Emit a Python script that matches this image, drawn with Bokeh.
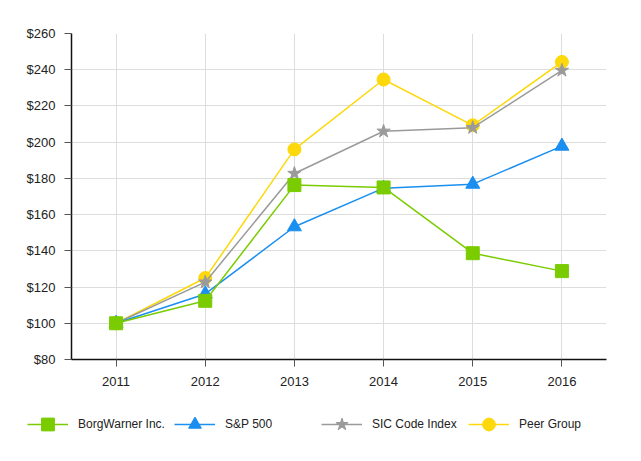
from bokeh.plotting import figure
from bokeh.layouts import column, row
from bokeh.models import FixedTicker, NumeralTickFormatter, Legend, LegendItem, Range1d
from bokeh.embed import file_html
from bokeh.resources import INLINE

years = [2011, 2012, 2013, 2014, 2015, 2016]
borgwarner = [100, 112.4, 176.3, 175.0, 138.7, 128.8]
sp500 = [100, 116.2, 153.3, 174.6, 176.8, 197.8]
sic_index = [100, 122.7, 182.7, 206.0, 208.0, 239.6]
peer_group = [100, 125.0, 196.0, 234.6, 209.3, 244.3]
y_ticks = [80, 100, 120, 140, 160, 180, 200, 220, 240, 260]
series_names = ["BorgWarner Inc.", "S&P 500", "SIC Code Index", "Peer Group"]

FONT = "Liberation Sans"
GREEN = "#7acc00"
BLUE = "#1a8ff0"
GRAY = "#9a9a9a"
YELLOW = "#fdd80a"

p = figure(width=625, height=400, output_backend="svg", toolbar_location=None,
           x_range=Range1d(2010.5, 2016.5), y_range=Range1d(80, 260),
           min_border_left=71, min_border_right=19, min_border_top=33, min_border_bottom=41)
p.outline_line_color = None

p.xaxis.ticker = FixedTicker(ticks=years)
p.yaxis.ticker = FixedTicker(ticks=y_ticks)
p.yaxis.formatter = NumeralTickFormatter(format="$0")
for ax in (p.xaxis, p.yaxis):
    ax.axis_line_color = "#111111"
    ax.axis_line_width = 1.5
    ax.major_tick_line_color = "#555555"
    ax.major_tick_out = 7
    ax.major_tick_in = 0
    ax.minor_tick_line_color = None
    ax.major_label_text_font = FONT
    ax.major_label_text_font_size = "13px"
    ax.major_label_text_color = "#222222"
p.xaxis.major_label_standoff = 10
p.yaxis.major_label_standoff = 9
p.xgrid.grid_line_color = "#dddddd"
p.ygrid.grid_line_color = "#dddddd"
p.xgrid.ticker = FixedTicker(ticks=years)
p.ygrid.ticker = FixedTicker(ticks=y_ticks)

styles = [
    (borgwarner, GREEN, "square", 13),
    (sp500, BLUE, "triangle", 14),
    (sic_index, GRAY, "star", 14),
    (peer_group, YELLOW, "circle", 13),
]
for vals, col, mk, sz in reversed(styles):
    p.line(years, vals, color=col, line_width=1.5)
    p.scatter(years, vals, marker=mk, size=sz, color=col)

# legend strip below the chart (legend swatches only, no data drawn)
lg = figure(width=625, height=45, output_backend="svg", toolbar_location=None,
            x_range=Range1d(0, 1), y_range=Range1d(0, 1),
            min_border=0, x_axis_location=None, y_axis_location=None)
lg.outline_line_color = None
lg.xgrid.visible = False
lg.ygrid.visible = False
nan = float("nan")
items = []
for name, (vals, col, mk, sz) in zip(series_names, styles):
    r1 = lg.line(x=[nan], y=[nan], color=col, line_width=1.5)
    r2 = lg.scatter(x=[nan], y=[nan], marker=mk, size=sz, color=col)
    items.append(LegendItem(label=name, renderers=[r1, r2]))
legend = Legend(items=items, orientation="horizontal", location=(27, 5))
legend.border_line_color = None
legend.background_fill_alpha = 0
legend.padding = 0
legend.margin = 0
legend.spacing = 0
legend.glyph_width = 41
legend.glyph_height = 32
legend.label_standoff = 10
legend.label_width = 96
legend.label_text_font = FONT
legend.label_text_font_size = "12px"
legend.label_text_color = "#222222"
lg.add_layout(legend, "center")

layout = column(row(p), row(lg), spacing=0)
open("out.html", "w").write(file_html(layout, INLINE))
